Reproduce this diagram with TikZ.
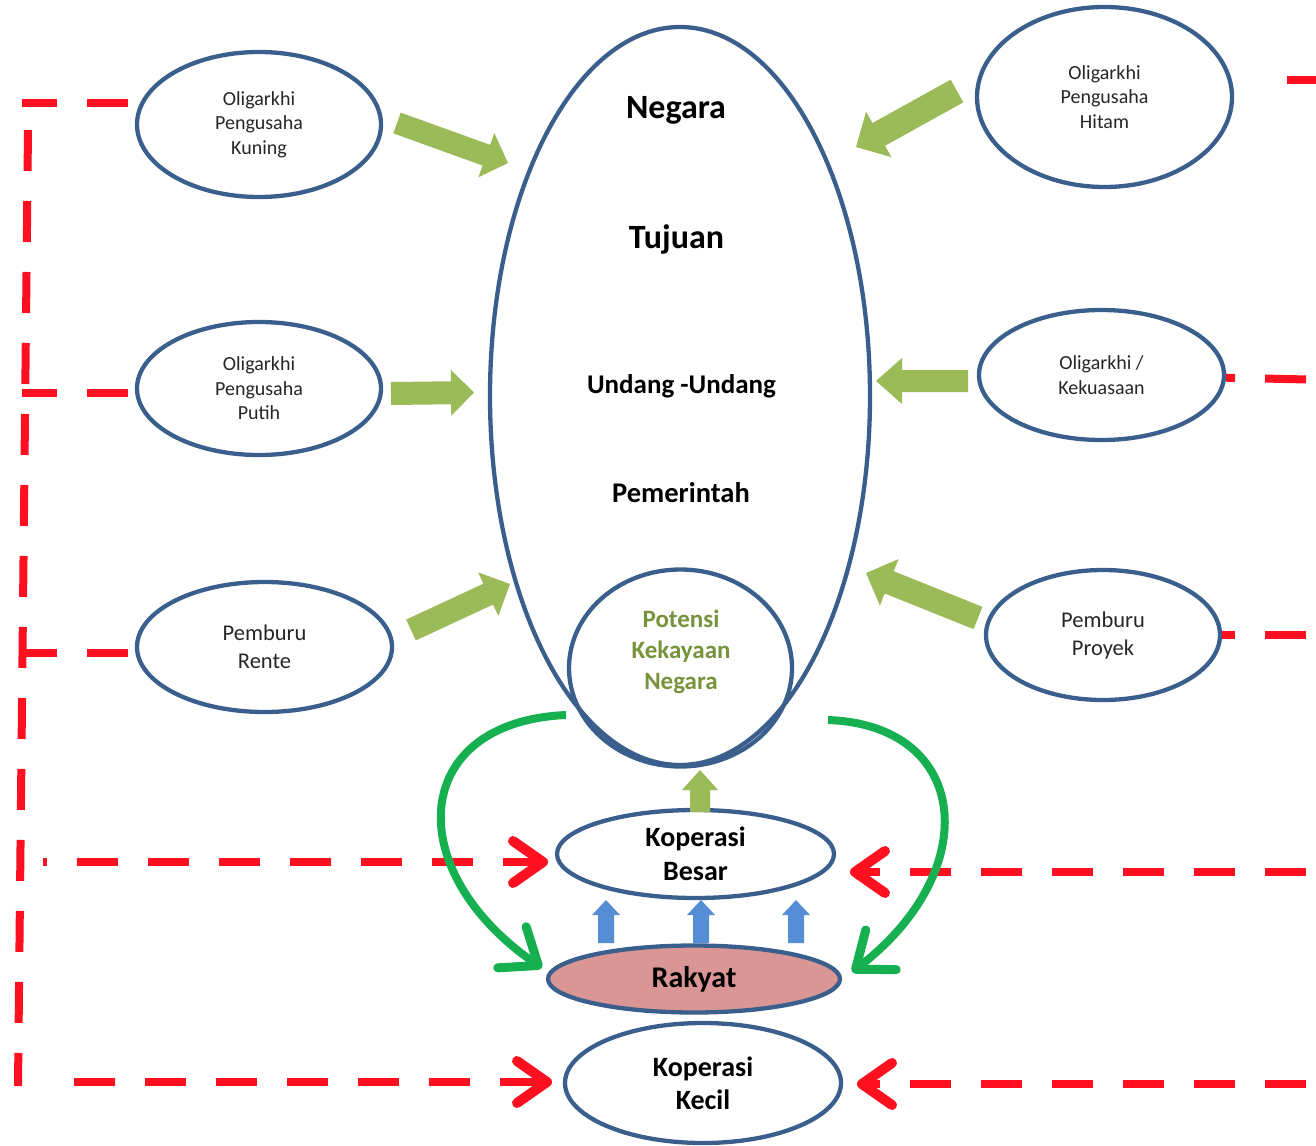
\documentclass[tikz,border=0pt]{standalone}
\usepackage{fontspec}
\setmainfont{Carlito}
\usetikzlibrary{shapes.geometric,arrows.meta,calc}
\definecolor{eblue}{RGB}{59,95,140}
\definecolor{garrow}{RGB}{155,187,89}
\definecolor{gcurve}{RGB}{22,176,80}
\definecolor{dred}{RGB}{255,16,32}
\definecolor{rfill}{RGB}{217,150,148}
\definecolor{barrow}{RGB}{85,142,213}
\definecolor{ptext}{RGB}{119,147,60}
\definecolor{tgray}{RGB}{38,38,38}
\newcommand\fatarrow[6]{%
  \coordinate (hb) at ($(#2)!#5!(#1)$);
  \fill[#6] ($(#1)!#3!90:(#2)$) -- ($(hb)!#3!90:(#2)$) -- ($(hb)!#4!90:(#2)$) -- (#2)
    -- ($(hb)!#4!-90:(#2)$) -- ($(hb)!#3!-90:(#2)$) -- ($(#1)!#3!-90:(#2)$) -- cycle;}
\begin{document}
\begin{tikzpicture}[x=1pt,y=-1pt,
  oval/.style={ellipse, draw=eblue, line width=4.3pt, inner sep=0pt, align=center},
  tsmall/.style={font=\fontsize{20}{24.5}\selectfont, text=tgray},
  tmid/.style={font=\fontsize{22.5}{28}\selectfont, text=tgray},
  tbig/.style={font=\fontsize{34}{40}\selectfont\bfseries},
  reddash/.style={draw=dred, line width=8pt, dash pattern=on 41pt off 30pt},
  redtip/.style={-{Straight Barb[length=30pt,width=42pt,line width=10pt,round]}},
  gtip/.style={-{Straight Barb[length=32pt,width=50pt,line width=9pt,round]}}
]
\useasboundingbox (0,0) rectangle (1316,1145);

% ---------- red dashed lines (behind) ----------
\coordinate (Lv1) at (28,130);
\coordinate (Lv2) at (18,1086);
\draw[reddash] (Lv1) -- (Lv2);
\coordinate (Lh1a) at (128,103); \coordinate (Lh1b) at (22,103);
\coordinate (Lh2a) at (128,393); \coordinate (Lh2b) at (22,393);
\coordinate (Lh3a) at (128,653); \coordinate (Lh3b) at (20,653);
\draw[reddash] (Lh1a) -- (Lh1b);
\draw[reddash] (Lh2a) -- (Lh2b);
\draw[reddash] (Lh3a) -- (Lh3b);
\coordinate (Rh1a) at (1287,80); \coordinate (Rh1b) at (1340,80);
\draw[reddash] (Rh1a) -- (Rh1b);

% ---------- ellipses ----------
\node[oval, tsmall, minimum width=244pt, minimum height=145pt] (kuning) at (259,124.5) {Oligarkhi\\Pengusaha\\Kuning};
\node[oval, tsmall, minimum width=244pt, minimum height=133pt] (putih) at (259,388.5) {Oligarkhi\\Pengusaha\\Putih};
\node[oval, tmid, minimum width=255pt, minimum height=130pt] (rente) at (264.5,647) {Pemburu\\Rente};
\node[oval, tsmall, minimum width=255pt, minimum height=180pt] (hitam) at (1104.5,97) {Oligarkhi\\Pengusaha\\Hitam};
\node[oval, tsmall, minimum width=245pt, minimum height=130pt] (kuasa) at (1101.5,375) {Oligarkhi /\\Kekuasaan};
\node[oval, tmid, minimum width=234pt, minimum height=130pt] (proyek) at (1103,635) {Pemburu\\Proyek};

\node[oval, minimum width=380pt, minimum height=738pt] (negara) at (680,396) {};
\node[oval, minimum width=223pt, minimum height=197pt] (potensi) at (680.5,668) {};

\node[tbig, anchor=base] (tnegara) at (676,118) {Negara};
\node[tbig, anchor=base] (ttujuan) at (676.5,248) {Tujuan};
\node[font=\fontsize{27}{32}\selectfont\bfseries, anchor=base] (tundang) at (681.5,393) {Undang -Undang};
\node[font=\fontsize{28.5}{34}\selectfont\bfseries, anchor=base] (tpemerintah) at (681,502) {Pemerintah};
\node[font=\fontsize{25}{31}\selectfont\bfseries, text=ptext, align=center] (tpotensi) at (681,652) {Potensi\\Kekayaan\\Negara};

\node[oval, fill=white, font=\fontsize{28}{34}\selectfont\bfseries, minimum width=277pt, minimum height=88pt] (kopbesar) at (695.5,854) {Koperasi\\Besar};
\node[oval, fill=rfill, font=\fontsize{30}{36}\selectfont\bfseries, minimum width=292pt, minimum height=67pt] (rakyat) at (694,979) {Rakyat};
\node[oval, font=\fontsize{28}{33}\selectfont\bfseries, minimum width=276pt, minimum height=120pt] (kopkecil) at (703,1083) {Koperasi\\Kecil};

% ---------- red dashed arrows and right-side lines ----------
\coordinate (Rk) at (1377,381);
\coordinate (Rp) at (1377,635);
\draw[reddash] (Rk) -- (kuasa);
\draw[reddash] (Rp) -- (proyek);

\coordinate (Lb) at (43,862); \coordinate (Lbt) at (548,862);
\draw[reddash, dash phase=37pt, redtip] (Lb) -- (Lbt);
\coordinate (Rb) at (1377,872); \coordinate (Rbt) at (850,872);
\draw[reddash, redtip] (Rb) -- (Rbt);
\coordinate (Lk) at (74,1082); \coordinate (Lkt) at (552,1082);
\draw[reddash, redtip] (Lk) -- (Lkt);
\coordinate (Rk2) at (1377,1084); \coordinate (Rkt) at (857,1084);
\draw[reddash, redtip] (Rk2) -- (Rkt);

% ---------- green block arrows ----------
\coordinate (a1s) at (397,123); \coordinate (a1e) at (508,163);
\fatarrow{a1s}{a1e}{11pt}{23.5pt}{23pt}{garrow}
\coordinate (a2s) at (391,393.5); \coordinate (a2e) at (474,392.5);
\fatarrow{a2s}{a2e}{11.5pt}{23pt}{23pt}{garrow}
\coordinate (a3s) at (411,630); \coordinate (a3e) at (510,584);
\fatarrow{a3s}{a3e}{11.5pt}{24pt}{24pt}{garrow}
\coordinate (a4s) at (957,91); \coordinate (a4e) at (856,147);
\fatarrow{a4s}{a4e}{13pt}{26pt}{26pt}{garrow}
\coordinate (a5s) at (968,381); \coordinate (a5e) at (876,381);
\fatarrow{a5s}{a5e}{11pt}{23pt}{26pt}{garrow}
\coordinate (a6s) at (978,618); \coordinate (a6e) at (866,573);
\fatarrow{a6s}{a6e}{12pt}{25pt}{25pt}{garrow}
\coordinate (a7s) at (700,812); \coordinate (a7e) at (700,770);
\fatarrow{a7s}{a7e}{10pt}{18pt}{20pt}{garrow}

% ---------- blue small arrows ----------
\coordinate (b1s) at (606,943); \coordinate (b1e) at (606,900);
\fatarrow{b1s}{b1e}{8pt}{14pt}{15pt}{barrow}
\coordinate (b2s) at (701,943); \coordinate (b2e) at (701,900);
\fatarrow{b2s}{b2e}{8pt}{14pt}{15pt}{barrow}
\coordinate (b3s) at (796,943); \coordinate (b3e) at (796,900);
\fatarrow{b3s}{b3e}{8pt}{14pt}{15pt}{barrow}

% ---------- green curved arrows ----------
\coordinate (c1s) at (566,715); \coordinate (c1e) at (542,968);
\coordinate (c2s) at (828,720); \coordinate (c2e) at (852,972);
\draw[gcurve, line width=8pt, gtip] (c1s) .. controls (410,722) and (400,870) .. (c1e);
\draw[gcurve, line width=8pt, gtip] (c2s) .. controls (970,725) and (985,870) .. (c2e);
\end{tikzpicture}
\end{document}
